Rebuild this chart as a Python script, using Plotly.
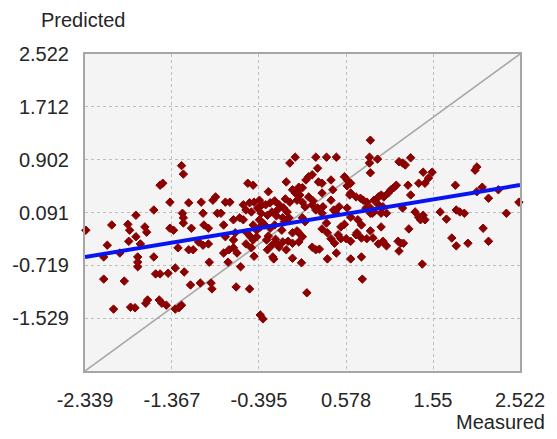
import plotly.graph_objects as go

# Measured vs. predicted values (standardised units)
measured = [
    -2.33, -2.13, -2.13, -2.09, -2.04, -2.02, -1.95, -1.90, -1.86, -1.84,
    -1.85, -1.83, -1.78, -1.77, -1.77, -1.75, -1.75, -1.75, -1.72, -1.67,
    -1.65, -1.66, -1.64, -1.57, -1.57, -1.55, -1.50, -1.41, -1.51, -1.48,
    -1.43, -1.50, -1.47, -1.39, -1.39, -1.35, -1.33, -1.33, -1.29, -1.26,
    -1.30, -1.26, -1.24, -1.25, -1.24, -1.24, -1.23, -1.18, -1.18, -1.13,
    -1.16, -1.15, -1.07, -1.02, -0.96, -1.05, -1.04, -1.02, -1.01, -0.96,
    -0.95, -0.93, -0.92, -0.91, -0.88, -0.77, -0.86, -0.82, -0.79, -0.79,
    -0.73, -0.77, -0.74,
    -0.72, -0.68, -0.61, -0.68, -0.66, -0.64, -0.60, -0.65, -0.50, -0.68,
    -0.57, -0.50, -0.45, -0.39, -0.54, -0.48, -0.41, -0.37, -0.57, -0.39,
    -0.35, -0.33, -0.52, -0.46, -0.29, -0.09, -0.05, 0.01, -0.02, 0.01,
    0.04, -0.32, -0.27, -0.22, -0.17, -0.12, -0.08, -0.25, -0.20, -0.13,
    -0.30, -0.06, -0.05, 0.03, -0.46, -0.42, -0.38, -0.53, -0.49, -0.46,
    -0.42, -0.31, -0.25, -0.20, -0.17, -0.13, -0.29, -0.21, -0.07, -0.02,
    0.03, -0.30, -0.24, -0.09, -0.02, -0.02, -0.54, -0.48, -0.45, -0.23,
    -0.38, -0.35, -0.19, -0.11, -0.22, -0.27, -0.14, -0.36, -0.10,
    0.05, 0.09, 0.13, 0.16, 0.20, 0.26, 0.24, 0.36, 0.47, 0.27,
    0.31, 0.41, 0.56, 0.59, 0.43, 0.63, 0.31, 0.59, 0.63, 0.69,
    0.74, 0.77, 0.81, 0.09, 0.12, 0.06, 0.16, 0.20, 0.24, 0.21,
    0.26, 0.32, 0.31, 0.41, 0.50, 0.59, 0.44, 0.46, 0.62, 0.80,
    0.87, 0.63, 0.71, 0.09, 0.12, 0.36, 0.52, 0.56, 0.75, 0.09,
    0.05, 0.05, 0.20, 0.24, 0.28, 0.31, 0.37, 0.41, 0.45, 0.52,
    0.58, 0.63, 0.70, 0.75, 0.81, 0.85, 0.69, 0.08, 0.14, 0.37,
    0.47, 0.63, 0.75, 0.76, 0.84, 0.85, 0.84, 0.85, 0.93, 0.85,
    0.85, 0.49,
    1.17, 1.21, 1.24, 1.30, 1.44, 1.54, 2.02, 2.04, 1.39, 1.46,
    1.50, 1.27, 1.14, 1.11, 1.08, 1.05, 1.00, 0.97, 0.94, 0.89,
    1.30, 1.80, 2.10, 2.04, 2.28, 2.17, 2.51, 1.21, 0.94, 0.99,
    0.89, 0.97, 1.03, 1.35, 1.39, 1.41, 1.44, 1.46, 1.63, 1.70,
    1.81, 1.85, 1.90, 2.37, 2.11, 1.28, 0.97, 0.88, 0.99, 0.94,
    1.03, 1.16, 1.19, 1.22, 1.17, 1.43, 1.76, 1.81, 1.94, 2.17,
]

predicted = [
    -0.18, -0.59, -0.93, -0.41, -0.10, -1.39, -0.53, -0.96, -0.09, -0.18,
    -0.35, -1.36, -1.37, 0.05, -0.28, -0.59, -0.67, -0.74, -0.39, -0.13,
    -0.21, -1.30, -1.25, 0.13, -0.59, -0.85, -0.85, -0.84, -1.25, -1.30,
    -1.33, 0.51, 0.54, 0.25, -0.15, -0.18, -0.76, -1.39, -1.37, -1.33,
    -0.45, 0.81, 0.68, 0.08, 0.01, -0.07, -0.82, 0.24, -0.48, -0.48,
    -1.02, -0.15, -0.36, -0.41, -0.39, -0.99, 0.25, 0.08, -0.10, -0.15,
    -0.67, -0.99, -1.08, 0.28, 0.33, 0.25, 0.08, 0.08, -0.10, -0.53,
    -0.48, -0.28, -0.67,
    0.25, -0.02, 0.01, -0.33, -0.22, -0.53, -0.74, -1.05, -1.08, -0.45,
    0.21, 0.24, 0.25, 0.28, 0.13, 0.10, 0.16, 0.08, -0.02, -0.02,
    -0.07, -0.10, 0.54, 0.51, 0.41, 0.56, 0.85, 0.94, 0.44, 0.39,
    0.44, 0.21, 0.24, 0.27, 0.21, 0.16, 0.10, 0.10, 0.04, 0.01,
    0.05, 0.01, 0.25, 0.28, -0.10, -0.18, -0.13, -0.22, -0.28, -0.33,
    -0.28, -0.33, -0.41, -0.38, -0.44, -0.36, -0.27, -0.32, -0.35, -0.22,
    -0.19, -0.48, -0.59, -0.48, -0.61, -0.38, -0.39, -0.45, -0.58, -0.62,
    -1.48, -1.54, 0.13, -0.05, -0.10, -0.15, -0.18, 0.21, 0.30,
    0.48, 0.47, 0.59, 0.64, 0.67, 0.77, 0.94, 0.94, 0.94, 0.56,
    0.54, 0.59, 0.64, 0.59, 0.44, 0.54, 0.39, 0.50, 0.39, 0.33,
    0.31, 0.28, 0.25, 0.25, 0.18, 0.36, 0.33, 0.21, 0.13, 0.27,
    0.16, 0.18, 0.08, 0.28, 0.18, 0.16, 0.13, 0.10, 0.36, 0.16,
    0.08, 0.02, -0.02, 0.01, -0.05, -0.07, -0.13, -0.09, -0.10, -0.28,
    -0.22, -0.36, -0.44, -0.48, -0.47, -0.16, -0.22, -0.31, -0.38, -0.31,
    -0.31, -0.35, -0.22, -0.30, -0.31, -0.19, -0.25, -0.68, -1.14, -0.62,
    -0.53, -0.62, -0.59, -0.93, 0.94, 1.20, 0.85, 0.70, 0.91, 0.16,
    0.08, -0.25,
    0.87, 0.85, 0.82, 0.93, 0.71, 0.71, 0.74, 0.79, 0.54, 0.54,
    0.62, 0.51, 0.51, 0.47, 0.44, 0.39, 0.33, 0.36, 0.33, 0.28,
    0.36, 0.51, 0.48, 0.41, 0.44, 0.31, 0.25, 0.16, 0.21, 0.18,
    0.10, 0.08, 0.08, 0.10, 0.02, -0.02, 0.05, -0.02, 0.10, -0.01,
    0.13, 0.10, 0.08, 0.08, -0.15, -0.16, -0.13, -0.30, -0.35, -0.39,
    -0.42, -0.35, -0.38, -0.38, -0.50, -0.70, -0.30, -0.42, -0.38, -0.35,
]

# Axis range and labelled tick positions
axis_min, axis_max = -2.339, 2.522
x_ticks = [-2.339, -1.367, -0.395, 0.578, 1.55, 2.522]
y_ticks = [-1.529, -0.719, 0.091, 0.902, 1.712, 2.522]

# Linear fit of predicted on measured
fit_slope, fit_intercept = 0.227, -0.06

font_family = "Liberation Sans, Arial, sans-serif"
text_color = "#262626"

fig = go.Figure()

# Identity line (perfect prediction)
fig.add_trace(go.Scatter(
    x=[axis_min, axis_max], y=[axis_min, axis_max],
    mode="lines", line=dict(color="#a8a8a8", width=1.6),
    hoverinfo="skip", showlegend=False,
))

fig.add_trace(go.Scatter(
    x=measured, y=predicted, mode="markers",
    marker=dict(symbol="diamond", size=6.5, color="#8b0000",
                line=dict(width=1, color="#8b0000")),
    cliponaxis=False, showlegend=False,
))

fit_x = [axis_min, axis_max]
fit_y = [fit_slope * v + fit_intercept for v in fit_x]
fig.add_trace(go.Scatter(
    x=fit_x, y=fit_y, mode="lines",
    line=dict(color="#0a14f0", width=4),
    hoverinfo="skip", showlegend=False,
))

axis_common = dict(
    range=[axis_min, axis_max],
    showgrid=True, gridcolor="#bdbdbd", griddash="dot", gridwidth=1,
    zeroline=False,
    showline=True, mirror=True, linecolor="#a6a6a6", linewidth=2,
    ticks="", ticklabelstandoff=10,
    tickfont=dict(family=font_family, size=20, color=text_color),
)

fig.update_xaxes(
    tickmode="array", tickvals=x_ticks,
    ticktext=[f"{v:g}" for v in x_ticks],
    **axis_common,
)
fig.update_yaxes(
    tickmode="array", tickvals=y_ticks,
    ticktext=[f"{v:g}" for v in y_ticks],
    **axis_common,
)

fig.update_layout(
    width=557, height=439,
    margin=dict(l=81, r=31, t=54, b=68),
    plot_bgcolor="#f4f4f4", paper_bgcolor="white",
    showlegend=False,
    annotations=[
        dict(text="Predicted", xref="paper", yref="paper", x=0, y=1,
             xanchor="left", yanchor="middle", xshift=-46, yshift=34,
             showarrow=False,
             font=dict(family=font_family, size=20, color=text_color)),
        dict(text="Measured", xref="paper", yref="paper", x=1, y=0,
             xanchor="right", yanchor="middle", xshift=27, yshift=-51,
             showarrow=False,
             font=dict(family=font_family, size=20, color=text_color)),
    ],
)

fig.write_html("out.html")
